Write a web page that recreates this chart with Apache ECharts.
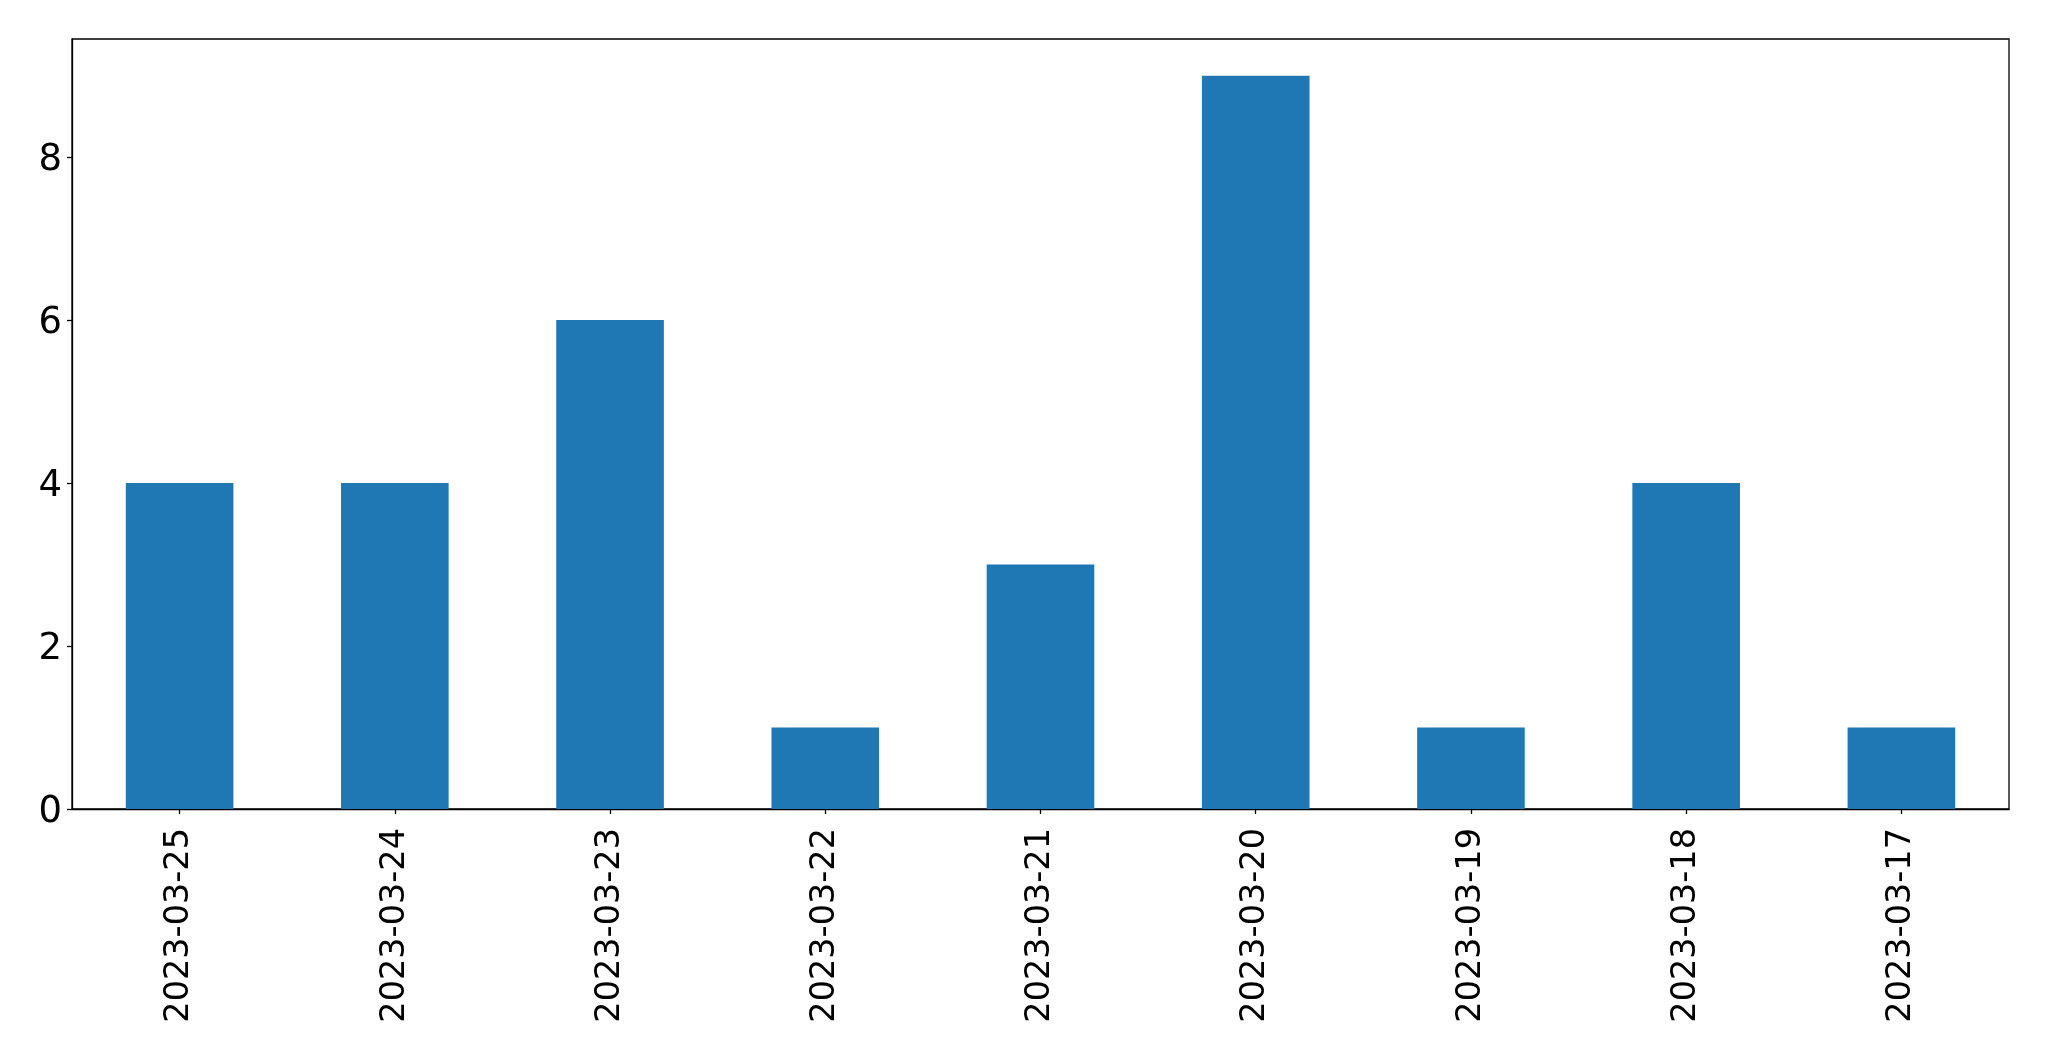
<!DOCTYPE html>
<html>
<head>
<meta charset="utf-8">
<script src="https://cdn.jsdelivr.net/npm/echarts@6/dist/echarts.min.js"></script>
<style>
html,body{margin:0;padding:0;background:#fff;}
#chart{width:2049px;height:1061px;}
</style>
</head>
<body>
<div id="chart"></div>
<script>
const categories = ["2023-03-25","2023-03-24","2023-03-23","2023-03-22","2023-03-21","2023-03-20","2023-03-19","2023-03-18","2023-03-17"];
const values = [4,4,6,1,3,9,1,4,1];
const yTicks = [0,2,4,6,8];

const chart = echarts.init(document.getElementById('chart'), null, {renderer:'canvas'});
const font = 'DejaVu Sans';
chart.setOption({
  animation:false,
  backgroundColor:'#fff',
  grid:{left:72, top:39, right:40, bottom:252, show:true, borderColor:'#000', borderWidth:1.3, backgroundColor:'transparent'},
  xAxis:{
    type:'category',
    data:categories,
    boundaryGap:true,
    axisLine:{show:true, lineStyle:{color:'#000', width:1.3}},
    axisTick:{show:true, alignWithLabel:true, length:5, lineStyle:{color:'#000', width:1.3}},
    axisLabel:{rotate:90, interval:0, margin:19, color:'#000', fontFamily:font, fontSize:33.5}
  },
  yAxis:{
    type:'value',
    min:0, max:9.45,
    splitLine:{show:false},
    axisLine:{show:true, lineStyle:{color:'#000', width:1.3}},
    axisTick:{show:true, length:5, lineStyle:{color:'#000', width:1.3}, customValues:yTicks},
    axisLabel:{
      margin:10, color:'#000', fontFamily:font, fontSize:37, customValues:yTicks,
      formatter: v => '{a|' + v + '}',
      rich:{a:{fontFamily:font, fontSize:37, color:'#000', padding:[6,0,0,0]}}
    }
  },
  series:[{
    type:'bar',
    data:values,
    barWidth:'50%',
    itemStyle:{color:'#1f77b4'}
  }]
});
</script>
</body>
</html>
